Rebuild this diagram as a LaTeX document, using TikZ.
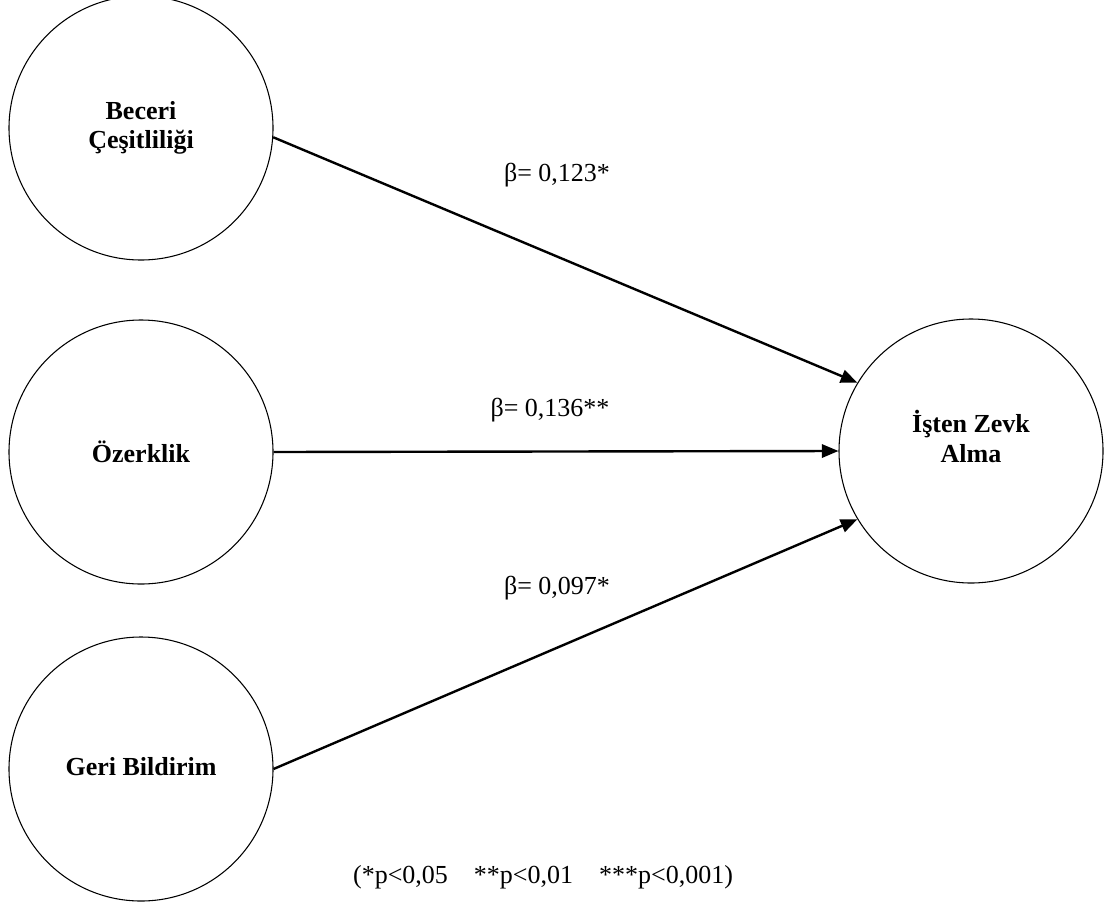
\documentclass[tikz,border=0pt]{standalone}
\usepackage{fontspec}
\setmainfont{Liberation Serif}
\usetikzlibrary{arrows.meta}

\begin{document}
\begin{tikzpicture}[
      x=0.75pt, y=-0.75pt,
      construct/.style={draw, circle, line width=0.8pt, minimum size=198pt, inner sep=0pt,
          align=center, font=\fontsize{19.5}{22}\selectfont\bfseries},
      coef/.style={font=\fontsize{19.5}{22}\selectfont},
      arr/.style={-{Triangle[length=12.5pt, width=10pt]}, line width=1.8pt},
    ]
    \useasboundingbox (0,0) rectangle (1105,903);

    \node[construct] (beceri) at (141,128) {Beceri\\Çeşitliliği};
    \node[construct] (ozerk) at (141,452) {Özerklik};
    \node[construct, text depth=4pt] (geri) at (141,769) {Geri Bildirim};
    \node[construct, text depth=22pt] (zevk) at (971,451) {İşten Zevk\\Alma};

    \draw[arr] (beceri.-4) -- (zevk.149);
    \draw[arr] (ozerk.east) -- (zevk.west);
    \draw[arr] (geri.east) -- (zevk.211);

    \node[coef] (b1) at (557,175) {β= 0,123*};
    \node[coef] (b2) at (550,410) {β= 0,136**};
    \node[coef] (b3) at (557,588) {β= 0,097*};

    \node[coef] (note) at (543,877) {(*p<0,05\hspace{1em}**p<0,01\hspace{1em}***p<0,001)};
  \end{tikzpicture}
\end{document}
